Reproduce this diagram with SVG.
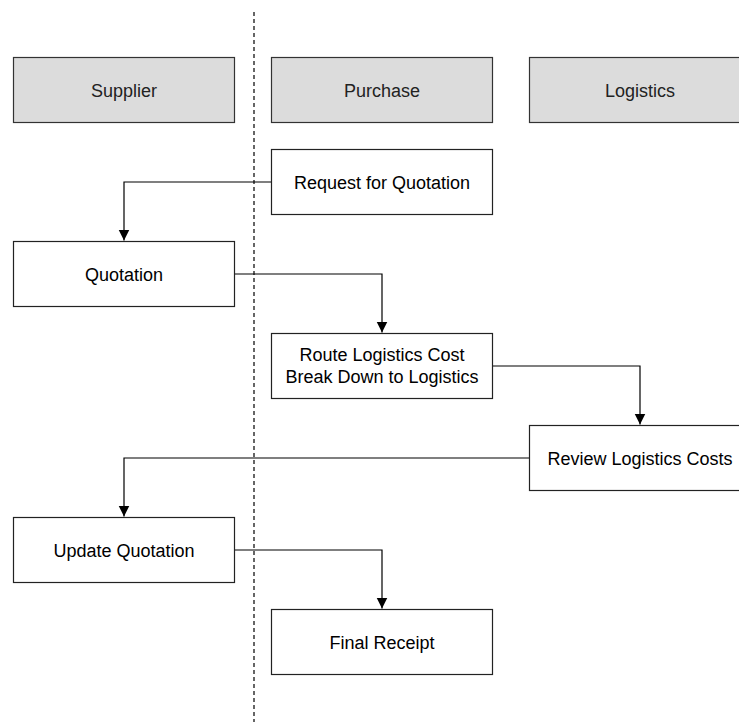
<svg xmlns="http://www.w3.org/2000/svg" width="739" height="722" viewBox="0 0 739 722">
  <style>
    .hdr { fill: #dcdcdc; stroke: #333333; stroke-width: 1.2; }
    .box { fill: #ffffff; stroke: #222222; stroke-width: 1.2; }
    .lbl { font-family: "Liberation Sans", Arial, sans-serif; font-size: 18px; fill: #000000; text-anchor: middle; }
    .hlbl { font-family: "Liberation Sans", Arial, sans-serif; font-size: 18px; fill: #222222; text-anchor: middle; }
    .conn { fill: none; stroke: #000000; stroke-width: 1.2; }
    .lane { fill: none; stroke: #000000; stroke-width: 1.2; stroke-dasharray: 4 3; }
  </style>
  <defs>
    <marker id="arrow" markerUnits="userSpaceOnUse" markerWidth="12" markerHeight="12" refX="11" refY="5.5" orient="auto">
      <path d="M0,0 L11,5.5 L0,11 Z" fill="#000000"/>
    </marker>
  </defs>
  <rect x="0" y="0" width="739" height="722" fill="#ffffff"/>

  <line id="lane-divider" class="lane" x1="254" y1="12" x2="254" y2="722"/>

  <g id="connectors">
    <path class="conn" d="M271.5,182 H124 V240.5" marker-end="url(#arrow)"/>
    <path class="conn" d="M234.5,274 H382 V332.5" marker-end="url(#arrow)"/>
    <path class="conn" d="M492.5,366 H640 V424.5" marker-end="url(#arrow)"/>
    <path class="conn" d="M529.5,458 H124 V516.5" marker-end="url(#arrow)"/>
    <path class="conn" d="M234.5,550 H382 V608.5" marker-end="url(#arrow)"/>
  </g>

  <g id="hdr-supplier">
    <rect class="hdr" x="13.5" y="57.5" width="221" height="65"/>
    <text class="hlbl" x="124" y="96.5">Supplier</text>
  </g>
  <g id="hdr-purchase">
    <rect class="hdr" x="271.5" y="57.5" width="221" height="65"/>
    <text class="hlbl" x="382" y="96.5">Purchase</text>
  </g>
  <g id="hdr-logistics">
    <rect class="hdr" x="529.5" y="57.5" width="221" height="65"/>
    <text class="hlbl" x="640" y="96.5">Logistics</text>
  </g>

  <g id="node-rfq">
    <rect class="box" x="271.5" y="149.5" width="221" height="65"/>
    <text class="lbl" x="382" y="188.5">Request for Quotation</text>
  </g>
  <g id="node-quotation">
    <rect class="box" x="13.5" y="241.5" width="221" height="65"/>
    <text class="lbl" x="124" y="280.5">Quotation</text>
  </g>
  <g id="node-route">
    <rect class="box" x="271.5" y="333.5" width="221" height="65"/>
    <text class="lbl" x="382" y="361">Route Logistics Cost</text>
    <text class="lbl" x="382" y="382.5">Break Down to Logistics</text>
  </g>
  <g id="node-review">
    <rect class="box" x="529.5" y="425.5" width="221" height="65"/>
    <text class="lbl" x="640" y="464.5">Review Logistics Costs</text>
  </g>
  <g id="node-update">
    <rect class="box" x="13.5" y="517.5" width="221" height="65"/>
    <text class="lbl" x="124" y="556.5">Update Quotation</text>
  </g>
  <g id="node-final">
    <rect class="box" x="271.5" y="609.5" width="221" height="65"/>
    <text class="lbl" x="382" y="648.5">Final Receipt</text>
  </g>
</svg>
